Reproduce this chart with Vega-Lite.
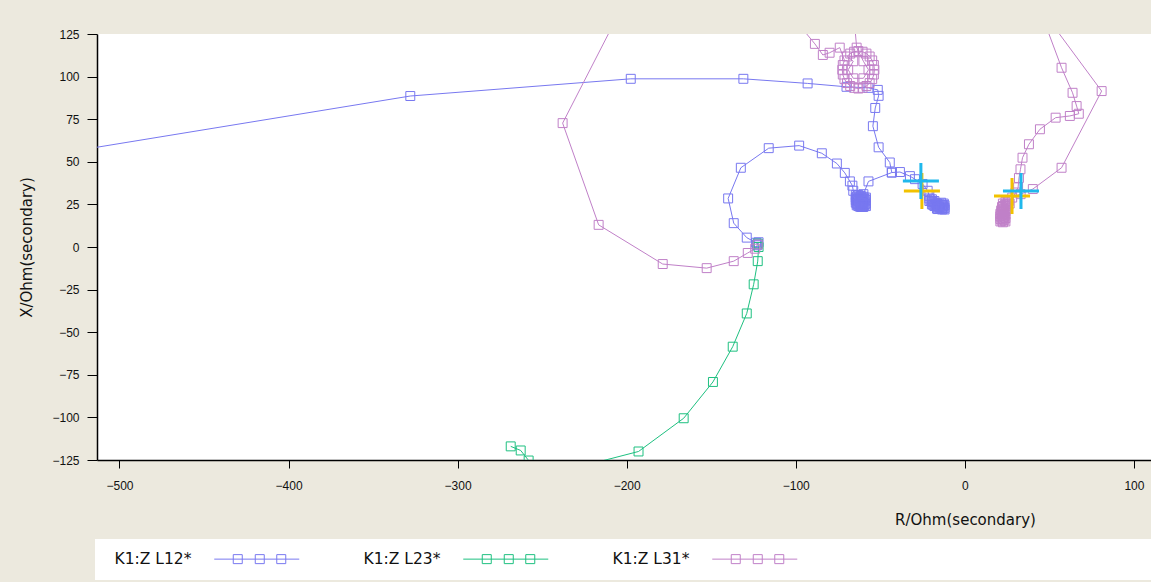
{
  "$schema": "https://vega.github.io/schema/vega-lite/v6.json",
  "autosize": {"type": "none"},
  "padding": {"left": 97, "top": 34, "right": 0, "bottom": 122},
  "width": 1054,
  "height": 426,
  "background": "#ece9de",
  "view": {"fill": "white", "stroke": null},
  "datasets": {
    "traj": [
      {"series":"K1:Z L12*","seg":"a","ord":1,"R":-640,"X":38},
      {"series":"K1:Z L12*","seg":"a","ord":2,"R":-328,"X":88.6},
      {"series":"K1:Z L12*","seg":"a","ord":3,"R":-197.6,"X":98.7},
      {"series":"K1:Z L12*","seg":"a","ord":4,"R":-131,"X":98.7},
      {"series":"K1:Z L12*","seg":"a","ord":5,"R":-93,"X":96},
      {"series":"K1:Z L12*","seg":"a","ord":6,"R":-70,"X":94},
      {"series":"K1:Z L12*","seg":"a","ord":7,"R":-57,"X":93.4},
      {"series":"K1:Z L12*","seg":"a","ord":8,"R":-51.5,"X":92.2},
      {"series":"K1:Z L12*","seg":"a","ord":9,"R":-51,"X":88.7},
      {"series":"K1:Z L12*","seg":"a","ord":10,"R":-53,"X":81.6},
      {"series":"K1:Z L12*","seg":"a","ord":11,"R":-54.4,"X":70.9},
      {"series":"K1:Z L12*","seg":"a","ord":12,"R":-51,"X":58.5},
      {"series":"K1:Z L12*","seg":"a","ord":13,"R":-44.4,"X":49.6},
      {"series":"K1:Z L12*","seg":"a","ord":14,"R":-43.2,"X":43.7},
      {"series":"K1:Z L12*","seg":"a","ord":15,"R":-38.4,"X":44},
      {"series":"K1:Z L12*","seg":"a","ord":16,"R":-32.5,"X":41.6},
      {"series":"K1:Z L12*","seg":"a","ord":17,"R":-29.5,"X":39.8},
      {"series":"K1:Z L12*","seg":"a","ord":18,"R":-25,"X":37},
      {"series":"K1:Z L12*","seg":"a","ord":19,"R":-22,"X":33},
      {"series":"K1:Z L12*","seg":"a","ord":20,"R":-21,"X":30},
      {"series":"K1:Z L12*","seg":"a","ord":21,"R":-21,"X":28.5},
      {"series":"K1:Z L12*","seg":"a","ord":22,"R":-19.5,"X":28},
      {"series":"K1:Z L12*","seg":"a","ord":23,"R":-21,"X":27},
      {"series":"K1:Z L12*","seg":"a","ord":24,"R":-19.5,"X":26.5},
      {"series":"K1:Z L12*","seg":"a","ord":25,"R":-18,"X":27},
      {"series":"K1:Z L12*","seg":"a","ord":26,"R":-18,"X":25.5},
      {"series":"K1:Z L12*","seg":"a","ord":27,"R":-16.5,"X":25.5},
      {"series":"K1:Z L12*","seg":"a","ord":28,"R":-16.5,"X":24},
      {"series":"K1:Z L12*","seg":"a","ord":29,"R":-18,"X":24},
      {"series":"K1:Z L12*","seg":"a","ord":30,"R":-15,"X":25},
      {"series":"K1:Z L12*","seg":"a","ord":31,"R":-15,"X":23.5},
      {"series":"K1:Z L12*","seg":"a","ord":32,"R":-13.5,"X":24.5},
      {"series":"K1:Z L12*","seg":"a","ord":33,"R":-13.5,"X":23},
      {"series":"K1:Z L12*","seg":"a","ord":34,"R":-12,"X":24.5},
      {"series":"K1:Z L12*","seg":"a","ord":35,"R":-12,"X":23},
      {"series":"K1:Z L12*","seg":"a","ord":36,"R":-12,"X":22},
      {"series":"K1:Z L12*","seg":"a","ord":37,"R":-13.5,"X":22},
      {"series":"K1:Z L12*","seg":"a","ord":38,"R":-15,"X":22.5},
      {"series":"K1:Z L12*","seg":"a","ord":39,"R":-16.5,"X":22.5},
      {"series":"K1:Z L12*","seg":"a","ord":40,"R":-14,"X":26},
      {"series":"K1:Z L12*","seg":"a","ord":41,"R":-12.5,"X":25.5},
      {"series":"K1:Z L12*","seg":"a","ord":42,"R":-19.5,"X":25},
      {"series":"K1:Z L12*","seg":"a","ord":43,"R":-20.25,"X":27.25},
      {"series":"K1:Z L12*","seg":"a","ord":44,"R":-18.75,"X":26.25},
      {"series":"K1:Z L12*","seg":"a","ord":45,"R":-17.25,"X":25.75},
      {"series":"K1:Z L12*","seg":"a","ord":46,"R":-17.25,"X":24.25},
      {"series":"K1:Z L12*","seg":"a","ord":47,"R":-15.75,"X":24.75},
      {"series":"K1:Z L12*","seg":"a","ord":48,"R":-15.75,"X":23.25},
      {"series":"K1:Z L12*","seg":"a","ord":49,"R":-14.25,"X":23.75},
      {"series":"K1:Z L12*","seg":"a","ord":50,"R":-14.25,"X":22.5},
      {"series":"K1:Z L12*","seg":"a","ord":51,"R":-12.75,"X":23.75},
      {"series":"K1:Z L12*","seg":"a","ord":52,"R":-12.75,"X":22.5},
      {"series":"K1:Z L12*","seg":"a","ord":53,"R":-18.75,"X":24.75},
      {"series":"K1:Z L12*","seg":"a","ord":54,"R":-16,"X":22.25},
      {"series":"K1:Z L12*","seg":"a","ord":55,"R":-13,"X":24.75},
      {"series":"K1:Z L12*","seg":"b","ord":1,"R":-43.2,"X":43.7},
      {"series":"K1:Z L12*","seg":"b","ord":2,"R":-57,"X":38.5},
      {"series":"K1:Z L12*","seg":"b","ord":3,"R":-60,"X":31},
      {"series":"K1:Z L12*","seg":"b","ord":4,"R":-64.5,"X":30.5},
      {"series":"K1:Z L12*","seg":"b","ord":5,"R":-63,"X":30.5},
      {"series":"K1:Z L12*","seg":"b","ord":6,"R":-61.5,"X":30},
      {"series":"K1:Z L12*","seg":"b","ord":7,"R":-60,"X":29.5},
      {"series":"K1:Z L12*","seg":"b","ord":8,"R":-58.5,"X":29},
      {"series":"K1:Z L12*","seg":"b","ord":9,"R":-64.5,"X":29},
      {"series":"K1:Z L12*","seg":"b","ord":10,"R":-63,"X":28.5},
      {"series":"K1:Z L12*","seg":"b","ord":11,"R":-61.5,"X":28.5},
      {"series":"K1:Z L12*","seg":"b","ord":12,"R":-60,"X":28},
      {"series":"K1:Z L12*","seg":"b","ord":13,"R":-58.5,"X":27.5},
      {"series":"K1:Z L12*","seg":"b","ord":14,"R":-64.5,"X":27.5},
      {"series":"K1:Z L12*","seg":"b","ord":15,"R":-63,"X":27},
      {"series":"K1:Z L12*","seg":"b","ord":16,"R":-61.5,"X":26.5},
      {"series":"K1:Z L12*","seg":"b","ord":17,"R":-60,"X":26},
      {"series":"K1:Z L12*","seg":"b","ord":18,"R":-58.5,"X":25.5},
      {"series":"K1:Z L12*","seg":"b","ord":19,"R":-64.5,"X":26},
      {"series":"K1:Z L12*","seg":"b","ord":20,"R":-63,"X":25.5},
      {"series":"K1:Z L12*","seg":"b","ord":21,"R":-61.5,"X":25},
      {"series":"K1:Z L12*","seg":"b","ord":22,"R":-60,"X":24.5},
      {"series":"K1:Z L12*","seg":"b","ord":23,"R":-58.5,"X":24},
      {"series":"K1:Z L12*","seg":"b","ord":24,"R":-63,"X":24},
      {"series":"K1:Z L12*","seg":"b","ord":25,"R":-61.5,"X":23.5},
      {"series":"K1:Z L12*","seg":"b","ord":26,"R":-60,"X":23.5},
      {"series":"K1:Z L12*","seg":"b","ord":27,"R":-64,"X":24.5},
      {"series":"K1:Z L12*","seg":"b","ord":28,"R":-63.75,"X":29.75},
      {"series":"K1:Z L12*","seg":"b","ord":29,"R":-62.25,"X":29.25},
      {"series":"K1:Z L12*","seg":"b","ord":30,"R":-60.75,"X":28.75},
      {"series":"K1:Z L12*","seg":"b","ord":31,"R":-59.25,"X":28.25},
      {"series":"K1:Z L12*","seg":"b","ord":32,"R":-63.75,"X":28.25},
      {"series":"K1:Z L12*","seg":"b","ord":33,"R":-62.25,"X":27.75},
      {"series":"K1:Z L12*","seg":"b","ord":34,"R":-60.75,"X":27.25},
      {"series":"K1:Z L12*","seg":"b","ord":35,"R":-59.25,"X":26.75},
      {"series":"K1:Z L12*","seg":"b","ord":36,"R":-63.75,"X":26.75},
      {"series":"K1:Z L12*","seg":"b","ord":37,"R":-62.25,"X":26.25},
      {"series":"K1:Z L12*","seg":"b","ord":38,"R":-60.75,"X":25.75},
      {"series":"K1:Z L12*","seg":"b","ord":39,"R":-59.25,"X":25.25},
      {"series":"K1:Z L12*","seg":"b","ord":40,"R":-63.75,"X":25.25},
      {"series":"K1:Z L12*","seg":"b","ord":41,"R":-62.25,"X":24.75},
      {"series":"K1:Z L12*","seg":"b","ord":42,"R":-60.75,"X":24.25},
      {"series":"K1:Z L12*","seg":"b","ord":43,"R":-59.25,"X":24.5},
      {"series":"K1:Z L12*","seg":"b","ord":44,"R":-62.25,"X":23.75},
      {"series":"K1:Z L12*","seg":"b","ord":45,"R":-60.75,"X":23.5},
      {"series":"K1:Z L12*","seg":"b","ord":46,"R":-66,"X":33},
      {"series":"K1:Z L12*","seg":"b","ord":47,"R":-66.5,"X":36},
      {"series":"K1:Z L12*","seg":"b","ord":48,"R":-68,"X":38.5},
      {"series":"K1:Z L12*","seg":"b","ord":49,"R":-71,"X":43.5},
      {"series":"K1:Z L12*","seg":"b","ord":50,"R":-75.7,"X":49},
      {"series":"K1:Z L12*","seg":"b","ord":51,"R":-84.6,"X":55},
      {"series":"K1:Z L12*","seg":"b","ord":52,"R":-98,"X":59.5},
      {"series":"K1:Z L12*","seg":"b","ord":53,"R":-116,"X":58},
      {"series":"K1:Z L12*","seg":"b","ord":54,"R":-132.5,"X":46.5},
      {"series":"K1:Z L12*","seg":"b","ord":55,"R":-140,"X":28.5},
      {"series":"K1:Z L12*","seg":"b","ord":56,"R":-136.7,"X":14},
      {"series":"K1:Z L12*","seg":"b","ord":57,"R":-129,"X":5.5},
      {"series":"K1:Z L12*","seg":"b","ord":58,"R":-123.5,"X":2.5},
      {"series":"K1:Z L12*","seg":"b","ord":59,"R":-122.5,"X":1.5},
      {"series":"K1:Z L12*","seg":"b","ord":60,"R":-122,"X":2.8},
      {"series":"K1:Z L12*","seg":"b","ord":61,"R":-123,"X":1},
      {"series":"K1:Z L23*","seg":"g","ord":1,"R":-268.6,"X":-117},
      {"series":"K1:Z L23*","seg":"g","ord":2,"R":-262.7,"X":-119.4},
      {"series":"K1:Z L23*","seg":"g","ord":3,"R":-258,"X":-125.3},
      {"series":"K1:Z L23*","seg":"g","ord":4,"R":-250,"X":-134},
      {"series":"K1:Z L23*","seg":"g","ord":5,"R":-310,"X":-150},
      {"series":"K1:Z L23*","seg":"g","ord":6,"R":-193,"X":-120},
      {"series":"K1:Z L23*","seg":"g","ord":7,"R":-166.3,"X":-100.5},
      {"series":"K1:Z L23*","seg":"g","ord":8,"R":-149,"X":-79.2},
      {"series":"K1:Z L23*","seg":"g","ord":9,"R":-137.3,"X":-58.5},
      {"series":"K1:Z L23*","seg":"g","ord":10,"R":-129,"X":-39},
      {"series":"K1:Z L23*","seg":"g","ord":11,"R":-124.9,"X":-21.9},
      {"series":"K1:Z L23*","seg":"g","ord":12,"R":-122.5,"X":-8.3},
      {"series":"K1:Z L23*","seg":"g","ord":13,"R":-122,"X":0},
      {"series":"K1:Z L23*","seg":"g","ord":14,"R":-122.5,"X":2},
      {"series":"K1:Z L31*","seg":"m1","ord":1,"R":-185,"X":175},
      {"series":"K1:Z L31*","seg":"m1","ord":2,"R":-237.9,"X":72.7},
      {"series":"K1:Z L31*","seg":"m1","ord":3,"R":-216.6,"X":13},
      {"series":"K1:Z L31*","seg":"m1","ord":4,"R":-178.7,"X":-10},
      {"series":"K1:Z L31*","seg":"m1","ord":5,"R":-152.7,"X":-12.4},
      {"series":"K1:Z L31*","seg":"m1","ord":6,"R":-136.7,"X":-8.3},
      {"series":"K1:Z L31*","seg":"m1","ord":7,"R":-128.4,"X":-3.5},
      {"series":"K1:Z L31*","seg":"m1","ord":8,"R":-124,"X":-1},
      {"series":"K1:Z L31*","seg":"m1","ord":9,"R":-122.5,"X":1.5},
      {"series":"K1:Z L31*","seg":"m2","ord":1,"R":-98.5,"X":131},
      {"series":"K1:Z L31*","seg":"m2","ord":2,"R":-88.7,"X":119.2},
      {"series":"K1:Z L31*","seg":"m2","ord":3,"R":-84,"X":112.7},
      {"series":"K1:Z L31*","seg":"m2","ord":4,"R":-80,"X":114},
      {"series":"K1:Z L31*","seg":"m2","ord":5,"R":-74,"X":117},
      {"series":"K1:Z L31*","seg":"m2","ord":6,"R":-71.2,"X":109.5},
      {"series":"K1:Z L31*","seg":"m2","ord":7,"R":-72.2,"X":106.8},
      {"series":"K1:Z L31*","seg":"m2","ord":8,"R":-72.5,"X":104},
      {"series":"K1:Z L31*","seg":"m2","ord":9,"R":-72.2,"X":101.2},
      {"series":"K1:Z L31*","seg":"m2","ord":10,"R":-71.2,"X":98.5},
      {"series":"K1:Z L31*","seg":"m2","ord":11,"R":-69.7,"X":96.2},
      {"series":"K1:Z L31*","seg":"m2","ord":12,"R":-67.8,"X":94.5},
      {"series":"K1:Z L31*","seg":"m2","ord":13,"R":-65.5,"X":93.4},
      {"series":"K1:Z L31*","seg":"m2","ord":14,"R":-63,"X":93},
      {"series":"K1:Z L31*","seg":"m2","ord":15,"R":-60.5,"X":93.4},
      {"series":"K1:Z L31*","seg":"m2","ord":16,"R":-58.2,"X":94.5},
      {"series":"K1:Z L31*","seg":"m2","ord":17,"R":-56.3,"X":96.2},
      {"series":"K1:Z L31*","seg":"m2","ord":18,"R":-54.8,"X":98.5},
      {"series":"K1:Z L31*","seg":"m2","ord":19,"R":-53.8,"X":101.2},
      {"series":"K1:Z L31*","seg":"m2","ord":20,"R":-53.5,"X":104},
      {"series":"K1:Z L31*","seg":"m2","ord":21,"R":-53.8,"X":106.8},
      {"series":"K1:Z L31*","seg":"m2","ord":22,"R":-54.8,"X":109.5},
      {"series":"K1:Z L31*","seg":"m2","ord":23,"R":-56.3,"X":111.8},
      {"series":"K1:Z L31*","seg":"m2","ord":24,"R":-58.2,"X":113.5},
      {"series":"K1:Z L31*","seg":"m2","ord":25,"R":-60.5,"X":114.6},
      {"series":"K1:Z L31*","seg":"m2","ord":26,"R":-63,"X":115},
      {"series":"K1:Z L31*","seg":"m2","ord":27,"R":-65.5,"X":114.6},
      {"series":"K1:Z L31*","seg":"m2","ord":28,"R":-67.8,"X":113.5},
      {"series":"K1:Z L31*","seg":"m2","ord":29,"R":-69.7,"X":111.8},
      {"series":"K1:Z L31*","seg":"m2","ord":30,"R":-66,"X":109},
      {"series":"K1:Z L31*","seg":"m2","ord":31,"R":-69,"X":104},
      {"series":"K1:Z L31*","seg":"m2","ord":32,"R":-66,"X":99},
      {"series":"K1:Z L31*","seg":"m2","ord":33,"R":-60,"X":99},
      {"series":"K1:Z L31*","seg":"m2","ord":34,"R":-57,"X":104},
      {"series":"K1:Z L31*","seg":"m2","ord":35,"R":-60,"X":109},
      {"series":"K1:Z L31*","seg":"m2","ord":36,"R":-64,"X":117},
      {"series":"K1:Z L31*","seg":"m2","ord":37,"R":-66,"X":140},
      {"series":"K1:Z L31*","seg":"m3","ord":1,"R":46,"X":135},
      {"series":"K1:Z L31*","seg":"m3","ord":2,"R":57.2,"X":105.2},
      {"series":"K1:Z L31*","seg":"m3","ord":3,"R":63.7,"X":90.5},
      {"series":"K1:Z L31*","seg":"m3","ord":4,"R":66.1,"X":82.7},
      {"series":"K1:Z L31*","seg":"m3","ord":5,"R":67.4,"X":78.2},
      {"series":"K1:Z L31*","seg":"m3","ord":6,"R":62.1,"X":76.9},
      {"series":"K1:Z L31*","seg":"m3","ord":7,"R":53.7,"X":75.9},
      {"series":"K1:Z L31*","seg":"m3","ord":8,"R":44.4,"X":69.1},
      {"series":"K1:Z L31*","seg":"m3","ord":9,"R":37.9,"X":60.3},
      {"series":"K1:Z L31*","seg":"m3","ord":10,"R":34.1,"X":52.4},
      {"series":"K1:Z L31*","seg":"m3","ord":11,"R":32.9,"X":45.6},
      {"series":"K1:Z L31*","seg":"m3","ord":12,"R":32,"X":40.5},
      {"series":"K1:Z L31*","seg":"m3","ord":13,"R":31.5,"X":35},
      {"series":"K1:Z L31*","seg":"m3","ord":14,"R":30,"X":32},
      {"series":"K1:Z L31*","seg":"m3","ord":15,"R":26.5,"X":25.5},
      {"series":"K1:Z L31*","seg":"m3","ord":16,"R":25.5,"X":27},
      {"series":"K1:Z L31*","seg":"m3","ord":17,"R":24,"X":26.5},
      {"series":"K1:Z L31*","seg":"m3","ord":18,"R":25,"X":25},
      {"series":"K1:Z L31*","seg":"m3","ord":19,"R":23.5,"X":24.5},
      {"series":"K1:Z L31*","seg":"m3","ord":20,"R":22,"X":23.5},
      {"series":"K1:Z L31*","seg":"m3","ord":21,"R":22.5,"X":25.5},
      {"series":"K1:Z L31*","seg":"m3","ord":22,"R":24.5,"X":23},
      {"series":"K1:Z L31*","seg":"m3","ord":23,"R":25.5,"X":22.5},
      {"series":"K1:Z L31*","seg":"m3","ord":24,"R":23,"X":22.5},
      {"series":"K1:Z L31*","seg":"m3","ord":25,"R":21.5,"X":21.5},
      {"series":"K1:Z L31*","seg":"m3","ord":26,"R":24,"X":21},
      {"series":"K1:Z L31*","seg":"m3","ord":27,"R":22.5,"X":20.5},
      {"series":"K1:Z L31*","seg":"m3","ord":28,"R":21,"X":19.5},
      {"series":"K1:Z L31*","seg":"m3","ord":29,"R":24,"X":19},
      {"series":"K1:Z L31*","seg":"m3","ord":30,"R":22.5,"X":18.5},
      {"series":"K1:Z L31*","seg":"m3","ord":31,"R":21,"X":18},
      {"series":"K1:Z L31*","seg":"m3","ord":32,"R":24,"X":17},
      {"series":"K1:Z L31*","seg":"m3","ord":33,"R":22.5,"X":16.5},
      {"series":"K1:Z L31*","seg":"m3","ord":34,"R":21,"X":16.5},
      {"series":"K1:Z L31*","seg":"m3","ord":35,"R":24,"X":15},
      {"series":"K1:Z L31*","seg":"m3","ord":36,"R":22.5,"X":14.5},
      {"series":"K1:Z L31*","seg":"m3","ord":37,"R":21,"X":15},
      {"series":"K1:Z L31*","seg":"m3","ord":38,"R":21.75,"X":15.5},
      {"series":"K1:Z L31*","seg":"m3","ord":39,"R":23.25,"X":15.75},
      {"series":"K1:Z L31*","seg":"m3","ord":40,"R":21.75,"X":17.25},
      {"series":"K1:Z L31*","seg":"m3","ord":41,"R":23.25,"X":17.75},
      {"series":"K1:Z L31*","seg":"m3","ord":42,"R":21.75,"X":19},
      {"series":"K1:Z L31*","seg":"m3","ord":43,"R":23.25,"X":19.5},
      {"series":"K1:Z L31*","seg":"m3","ord":44,"R":21.75,"X":20.75},
      {"series":"K1:Z L31*","seg":"m3","ord":45,"R":23.25,"X":21.25},
      {"series":"K1:Z L31*","seg":"m3","ord":46,"R":22.75,"X":24},
      {"series":"K1:Z L31*","seg":"m3","ord":47,"R":24.25,"X":24.25},
      {"series":"K1:Z L31*","seg":"m3","ord":48,"R":24.5,"X":25.5},
      {"series":"K1:Z L31*","seg":"m4","ord":1,"R":48.5,"X":135},
      {"series":"K1:Z L31*","seg":"m4","ord":2,"R":80.9,"X":91.5},
      {"series":"K1:Z L31*","seg":"m4","ord":3,"R":57.2,"X":46.5},
      {"series":"K1:Z L31*","seg":"m4","ord":4,"R":40.2,"X":34},
      {"series":"K1:Z L31*","seg":"m4","ord":5,"R":33,"X":31},
      {"series":"K1:Z L31*","seg":"m4","ord":6,"R":28,"X":29},
      {"series":"K1:Z L31*","seg":"m4","ord":7,"R":26,"X":27}
    ],
    "crosses": [
      {"kind":"yellow","R":-25.4,"X":32.9},
      {"kind":"yellow","R":27.9,"X":29.9},
      {"kind":"cyan","R":-26,"X":38.7},
      {"kind":"cyan","R":33.2,"X":32.9}
    ]
  },
  "layer": [
    {
      "mark": {"type": "rule", "color": "black", "strokeWidth": 1.5},
      "encoding": {"y": {"datum": 0, "type": "quantitative", "title": "X/Ohm(secondary)", "scale": {"domain": [-125, 125], "nice": false, "zero": false}, "axis": {"values": [-125, -100, -75, -50, -25, 0, 25, 50, 75, 100, 125]}}}
    },
    {
      "mark": {"type": "rule", "color": "black", "strokeWidth": 1.5},
      "encoding": {"x": {"datum": 0, "type": "quantitative", "title": "R/Ohm(secondary)", "scale": {"domain": [-513.3, 110.1], "nice": false, "zero": false}, "axis": {"values": [-500, -400, -300, -200, -100, 0, 100]}}}
    },
    {
      "data": {"name": "traj"},
      "mark": {"type": "line", "strokeWidth": 1, "clip": true},
      "encoding": {
        "x": {"field": "R", "type": "quantitative", "title": "R/Ohm(secondary)", "scale": {"domain": [-513.3, 110.1], "nice": false, "zero": false}, "axis": {"values": [-500, -400, -300, -200, -100, 0, 100]}},
        "y": {"field": "X", "type": "quantitative", "title": "X/Ohm(secondary)", "scale": {"domain": [-125, 125], "nice": false, "zero": false}, "axis": {"values": [-125, -100, -75, -50, -25, 0, 25, 50, 75, 100, 125]}},
        "color": {"field": "series", "type": "nominal", "scale": {"domain": ["K1:Z L12*", "K1:Z L23*", "K1:Z L31*"], "range": ["#7878f0", "#1ec080", "#c080c8"]}, "legend": {"title": "\u00a0", "titleOrient": "right", "titlePadding": 360, "titleFontSize": 15}},
        "detail": {"field": "seg", "type": "nominal"},
        "order": {"field": "ord", "type": "quantitative"}
      }
    },
    {
      "data": {"name": "traj"},
      "mark": {"type": "point", "shape": "square", "size": 80, "filled": false, "strokeWidth": 1, "opacity": 1, "clip": true},
      "encoding": {
        "x": {"field": "R", "type": "quantitative", "title": "R/Ohm(secondary)"},
        "y": {"field": "X", "type": "quantitative", "title": "X/Ohm(secondary)"},
        "color": {"field": "series", "type": "nominal"}
      }
    },
    {
      "data": {"name": "crosses"},
      "transform": [{"filter": "datum.kind === 'yellow'"}],
      "mark": {"type": "point", "shape": "M-1,0H1M0,-1V1", "size": 1300, "filled": false, "strokeWidth": 3, "color": "#f2c200", "opacity": 1, "clip": true},
      "encoding": {
        "x": {"field": "R", "type": "quantitative", "title": "R/Ohm(secondary)"},
        "y": {"field": "X", "type": "quantitative", "title": "X/Ohm(secondary)"}
      }
    },
    {
      "data": {"name": "crosses"},
      "transform": [{"filter": "datum.kind === 'cyan'"}],
      "mark": {"type": "point", "shape": "M-1,0H1M0,-1V1", "size": 1300, "filled": false, "strokeWidth": 3, "color": "#20b8ec", "opacity": 1, "clip": true},
      "encoding": {
        "x": {"field": "R", "type": "quantitative", "title": "R/Ohm(secondary)"},
        "y": {"field": "X", "type": "quantitative", "title": "X/Ohm(secondary)"}
      }
    }
  ],
  "config": {
    "axisX": {
      "grid": false,
      "domainColor": "black",
      "domainWidth": 1.5,
      "tickColor": "black",
      "tickSize": 8,
      "labelPadding": 12,
      "labelFont": "Liberation Sans",
      "labelFontSize": 12,
      "labelColor": "#111",
      "titleFont": "DejaVu Sans",
      "titleFontSize": 15,
      "titleFontWeight": "normal",
      "titleColor": "#111",
      "titleX": 868,
      "titleY": 59,
      "titleBaseline": "middle",
      "titleAlign": "center"
    },
    "axisY": {
      "grid": false,
      "domainColor": "black",
      "domainWidth": 1.5,
      "tickColor": "black",
      "tickSize": 10,
      "labelPadding": 8,
      "labelFont": "Liberation Sans",
      "labelFontSize": 12,
      "labelColor": "#111",
      "titleFont": "DejaVu Sans",
      "titleFontSize": 15,
      "titleFontWeight": "normal",
      "titleColor": "#111",
      "titleX": -71,
      "titleY": 213,
      "titleBaseline": "middle",
      "titleAlign": "center",
      "titleAngle": -90
    },
    "legend": {
      "orient": "none",
      "legendX": -2,
      "legendY": 505,
      "direction": "horizontal",
      "fillColor": "white",
      "padding": 12,
      "labelFont": "DejaVu Sans",
      "labelFontSize": 15.5,
      "labelColor": "#111",
      "labelOffset": -8,
      "symbolType": "M19.9,0H36.9M23.7,-0.9h1.8v1.8h-1.8zM28.1,-0.9h1.8v1.8h-1.8zM32.4,-0.9h1.8v1.8h-1.8z",
      "symbolSize": 100,
      "symbolStrokeWidth": 1,
      "symbolFillColor": "transparent",
      "columnPadding": 54
    }
  }
}
